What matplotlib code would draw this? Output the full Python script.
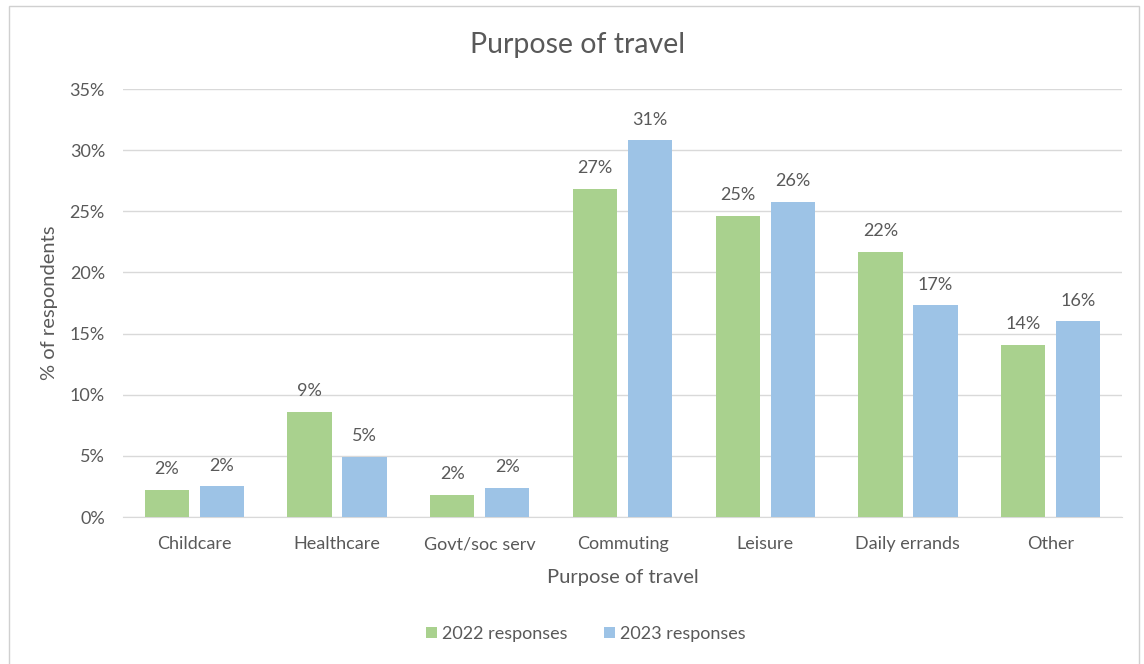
import matplotlib
matplotlib.use("Agg")
import matplotlib.pyplot as plt
from matplotlib.patches import Rectangle
from matplotlib.ticker import FuncFormatter
import numpy as np

categories = ["Childcare", "Healthcare", "Govt/soc serv", "Commuting",
              "Leisure", "Daily errands", "Other"]
responses_2022 = [2.2, 8.6, 1.8, 26.8, 24.6, 21.7, 14.1]
responses_2023 = [2.5, 4.9, 2.4, 30.8, 25.8, 17.3, 16.0]
series_labels = ["2022 responses", "2023 responses"]
y_ticks = [0, 5, 10, 15, 20, 25, 30, 35]

GREEN = "#A9D18E"
BLUE = "#9DC3E6"
TEXT = "#595959"
GRID = "#D9D9D9"

plt.rcParams["font.family"] = ["Lato", "DejaVu Sans"]

W, H = 1144, 664
fig = plt.figure(figsize=(W / 100, H / 100), dpi=100)
fig.patch.set_facecolor("white")

# outer chart frame
fig.patches.append(Rectangle((9 / W, -0.05), (1139 - 9) / W, 1.05 - 6 / H,
                             transform=fig.transFigure, fill=False,
                             edgecolor="#D0D0D0", linewidth=1.0))

ax = fig.add_axes([123 / W, 1 - 517 / H, (1122 - 123) / W, (517 - 89) / H])

x = np.arange(len(categories))
width = 0.31
offset = 0.193
b1 = ax.bar(x - offset, responses_2022, width, color=GREEN, label=series_labels[0], zorder=3)
b2 = ax.bar(x + offset, responses_2023, width, color=BLUE, label=series_labels[1], zorder=3)

for bars in (b1, b2):
    for rect in bars:
        v = rect.get_height()
        ax.annotate(f"{v:.0f}%", (rect.get_x() + rect.get_width() / 2, v),
                    xytext=(0, 15), textcoords="offset points",
                    ha="center", va="center", fontsize=13, color=TEXT)

ax.set_xlim(-0.5, len(categories) - 0.5)
ax.set_ylim(0, 35)
ax.set_yticks(y_ticks)
ax.yaxis.set_major_formatter(FuncFormatter(lambda v, p: f"{v:.0f}%"))
ax.set_xticks(x)
ax.set_xticklabels(categories)

ax.grid(axis="y", color=GRID, linewidth=1.0, zorder=0)
ax.set_axisbelow(True)
for s in ["top", "right", "left"]:
    ax.spines[s].set_visible(False)
ax.spines["bottom"].set_color(GRID)
ax.tick_params(axis="both", length=0, colors=TEXT, labelsize=13)
ax.tick_params(axis="y", pad=13)
ax.tick_params(axis="x", pad=14)

fig.text(578 / W, 1 - 45 / H, "Purpose of travel", fontsize=20.5, color=TEXT,
         ha="center", va="center")
ax.set_xlabel("Purpose of travel", fontsize=14.5, color=TEXT, labelpad=12)
ax.set_ylabel("% of respondents", fontsize=14.5, color=TEXT, labelpad=8)

leg = fig.legend(handles=[b1, b2], labels=series_labels, loc="center",
                 bbox_to_anchor=(586 / W, 1 - 634 / H), ncol=2, frameon=False,
                 fontsize=13, handlelength=0.6, handleheight=0.6,
                 handletextpad=0.3, columnspacing=2.0)
for t in leg.get_texts():
    t.set_color(TEXT)

fig.savefig("out.png", dpi=100, facecolor="white")
